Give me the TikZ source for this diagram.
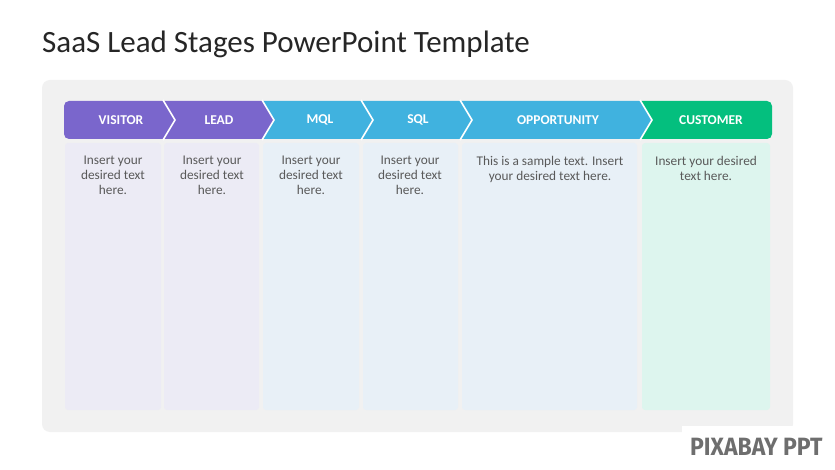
\documentclass[tikz,border=0pt]{standalone}
\usepackage{fontspec}
\setmainfont{Carlito}
\newfontfamily\wmfont{Fira Sans}[UprightFont=* Bold]
\definecolor{panelgray}{HTML}{F1F1F1}
\definecolor{purp}{HTML}{7A66CC}
\definecolor{sky}{HTML}{40B2DF}
\definecolor{grn}{HTML}{04BF7E}
\definecolor{purpcol}{HTML}{ECEBF5}
\definecolor{skycol}{HTML}{E8F0F7}
\definecolor{grncol}{HTML}{DDF5EE}
\definecolor{bodytext}{HTML}{595959}
\definecolor{titletext}{HTML}{262626}
\definecolor{wmgray}{HTML}{6E6E6E}
\tikzset{
  hdr/.style={text=white, font=\fontsize{13.5}{15}\selectfont\bfseries, inner sep=0pt, anchor=center},
  bodytxt/.style={text=bodytext, font=\fontsize{13.3}{15}\selectfont, align=center, anchor=north, inner sep=0pt},
  colbox/.style={rounded corners=3pt},
  sep/.style={draw=white, line width=1.6pt, line join=miter}
}
\begin{document}
\begin{tikzpicture}[x=1pt,y=-1pt]
\useasboundingbox (0,0) rectangle (835,470);
\fill[white] (0,0) rectangle (835,470);
% title
\node[anchor=base west, inner sep=0pt, text=titletext, font=\fontsize{31}{34}\selectfont] (title) at (42,53) {SaaS Lead Stages PowerPoint Template};
% panel
\fill[panelgray, rounded corners=8pt] (42,80) rectangle (793,432);
% columns
\fill[purpcol, colbox] (65,143) rectangle (161,410);
\fill[purpcol, colbox] (164,143) rectangle (259,410);
\fill[skycol, colbox] (263,143) rectangle (359,410);
\fill[skycol, colbox] (363,143) rectangle (458,410);
\fill[skycol, colbox] (462,143) rectangle (637,410);
\fill[grncol, colbox] (642,143) rectangle (770,410);
% chevron bar
\fill[purp] (70,101) -- (163,101) -- (175,120) -- (163,139) -- (70,139)
  [rounded corners=5pt] -- (64,139) -- (64,101) [sharp corners] -- (70,101) -- cycle;
\fill[purp] (163,101) -- (262,101) -- (274,120) -- (262,139) -- (163,139) -- (175,120) -- cycle;
\fill[sky] (262,101) -- (361,101) -- (373,120) -- (361,139) -- (262,139) -- (274,120) -- cycle;
\fill[sky] (361,101) -- (460,101) -- (472,120) -- (460,139) -- (361,139) -- (373,120) -- cycle;
\fill[sky] (460,101) -- (640,101) -- (652,120) -- (640,139) -- (460,139) -- (472,120) -- cycle;
\fill[grn] (640,101) -- (760,101) [rounded corners=5pt] -- (772,101) -- (772,139) [sharp corners] -- (760,139) -- (640,139) -- (652,120) -- cycle;
\draw[sep] (163,100) -- (175,120) -- (163,140);
\draw[sep] (262,100) -- (274,120) -- (262,140);
\draw[sep] (361,100) -- (373,120) -- (361,140);
\draw[sep] (460,100) -- (472,120) -- (460,140);
\draw[sep] (640,100) -- (652,120) -- (640,140);
% headers
\node[hdr] (h1) at (121,120) {VISITOR};
\node[hdr] (h2) at (219,120) {LEAD};
\node[hdr] (h3) at (320,120) {MQL};
\node[hdr] (h4) at (418,120) {SQL};
\node[hdr] (h5) at (558,120) {OPPORTUNITY};
\node[hdr] (h6) at (711,120) {CUSTOMER};
% body texts
\node[bodytxt] (b1) at (113,156) {Insert your\\desired text\\here.};
\node[bodytxt] (b2) at (212,156) {Insert your\\desired text\\here.};
\node[bodytxt] (b3) at (311,156) {Insert your\\desired text\\here.};
\node[bodytxt] (b4) at (410,156) {Insert your\\desired text\\here.};
\node[bodytxt] (b5) at (550,156) {This is a sample text. Insert\\your desired text here.};
\node[bodytxt] (b6) at (706,156) {Insert your desired\\text here.};
% watermark
\fill[white] (682,426) rectangle (835,470);
\node[anchor=base west, inner sep=0pt, text=wmgray, font=\wmfont\fontsize{25}{28}\selectfont, xscale=0.92] (wm) at (690,455) {PIXABAY PPT};
\end{tikzpicture}
\end{document}
